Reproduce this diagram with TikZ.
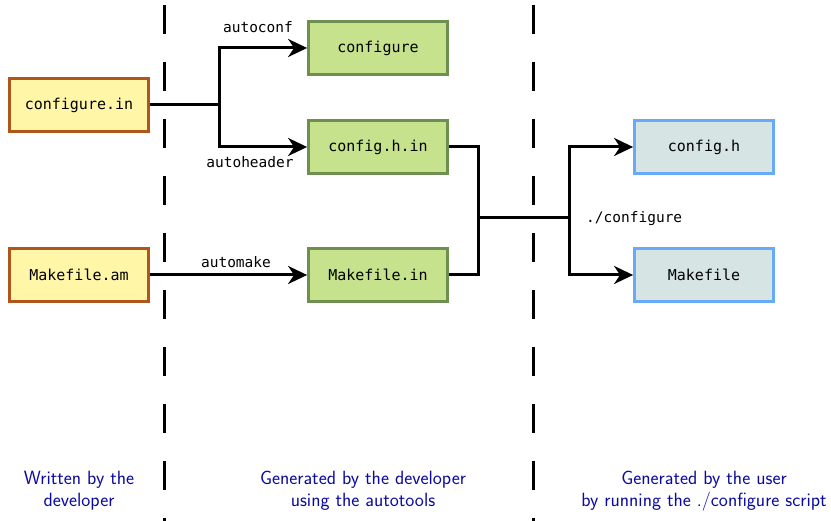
\documentclass[tikz,border=0pt]{standalone}
\usepackage{fontspec}
\newfontfamily\monofont{DejaVu Sans Mono}
\usetikzlibrary{arrows.meta}
\definecolor{yfill}{HTML}{FFF6A8}
\definecolor{ydraw}{HTML}{B0561A}
\definecolor{gfill}{HTML}{C6E28C}
\definecolor{gdraw}{HTML}{6E8F50}
\definecolor{bfill}{HTML}{D6E4E4}
\definecolor{bdraw}{HTML}{66AAF8}
\definecolor{captext}{HTML}{0A0AA0}
\tikzset{
  filebox/.style={draw, line width=2.8pt, minimum width=139pt, minimum height=53pt,
    inner sep=0pt, font=\monofont\fontsize{15}{17}\selectfont},
  srcbox/.style={filebox, fill=yfill, draw=ydraw},
  genbox/.style={filebox, fill=gfill, draw=gdraw},
  userbox/.style={filebox, fill=bfill, draw=bdraw},
  conn/.style={line width=3pt, black},
  arr/.style={conn, -{Stealth[length=19pt,width=18pt,inset=6pt]}},
  tool/.style={font=\monofont\fontsize{14.5}{16}\selectfont, inner sep=0pt},
  divider/.style={line width=3pt, dash pattern=on 29pt off 28pt},
  caption/.style={font=\sffamily\fontsize{19.2}{22}\selectfont, text=captext, align=center, inner sep=0pt}
}
\begin{document}
\begin{tikzpicture}[x=1pt,y=-1pt]
\useasboundingbox (0,0) rectangle (831,521);
% dividers
\draw[divider] (164,5) -- (164,521);
\draw[divider] (533,5) -- (533,521);
% boxes
\node[srcbox] (cin) at (79,105) {configure.in};
\node[srcbox] (mam) at (79,275) {Makefile.am};
\node[genbox] (conf) at (378,48) {configure};
\node[genbox] (chin) at (378,147) {config.h.in};
\node[genbox] (min) at (378,275) {Makefile.in};
\node[userbox] (ch) at (704,147) {config.h};
\node[userbox] (mk) at (704,275) {Makefile};
% junctions
\coordinate (j1) at (219,105);
\coordinate (j2) at (478,218);
\coordinate (j3) at (569,218);
% connectors
\draw[conn] (cin.east) -- (j1);
\draw[arr] (j1) |- (conf.west);
\draw[arr] (j1) |- (chin.west);
\draw[arr] (mam.east) -- (min.west);
\draw[conn] (chin.east) -| (j2);
\draw[conn] (min.east) -| (j2);
\draw[conn] (j2) -- (j3);
\draw[arr] (j3) |- (ch.west);
\draw[arr] (j3) |- (mk.west);
% tool labels
\node[tool] (lconf) at (258,27) {autoconf};
\node[tool] (lhead) at (250,162) {autoheader};
\node[tool] (lmake) at (236,262) {automake};
\node[tool, anchor=west] (lcfg) at (586,219) {./configure};
% captions
\node[caption] (c1) at (79,491) {Written by the\\developer};
\node[caption] (c2) at (363,491) {Generated by the developer\\using the autotools};
\node[caption] (c3) at (704,491) {Generated by the user\\by running the ./configure script};
\end{tikzpicture}
\end{document}
